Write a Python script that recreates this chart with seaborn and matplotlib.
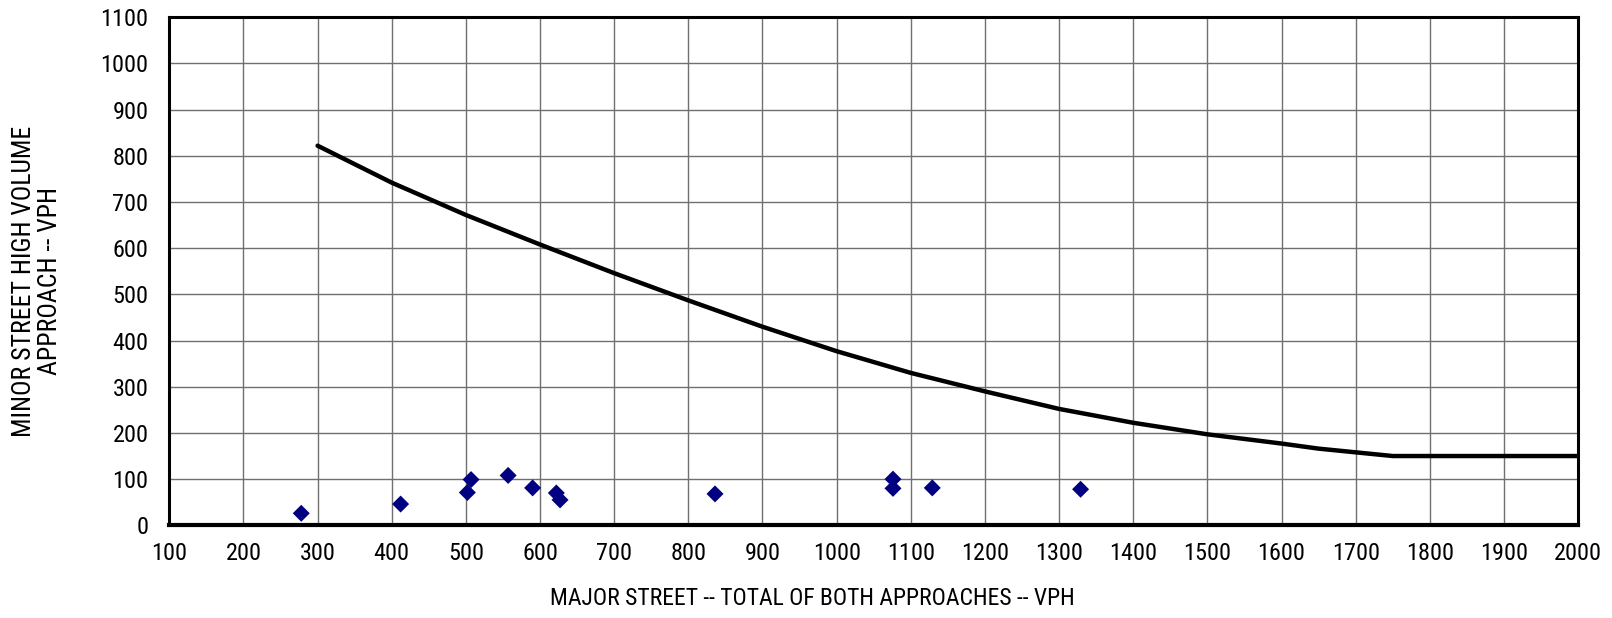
import seaborn as sns
import numpy as np
import pandas as pd
import matplotlib.pyplot as plt

# warrant curve
curve_major = [300, 400, 500, 600, 700, 800, 900, 1000, 1100, 1200, 1300, 1400, 1500, 1600, 1650, 1750, 2000]
curve_minor = [822, 742, 672, 608, 546, 487, 430, 377, 330, 290, 252, 222, 197, 177, 166, 150, 150]

# observed hourly volumes
obs_major = [278, 412, 502, 507, 557, 590, 622, 627, 836, 1076, 1076, 1129, 1329]
obs_minor = [26, 46, 71, 99, 108, 81, 70, 55, 68, 100, 80, 81, 78]

x_ticks = np.arange(100, 2001, 100)
y_ticks = np.arange(0, 1101, 100)

sns.set_theme(style="white")
plt.rcParams['font.family'] = ['Roboto Condensed', 'DejaVu Sans Condensed', 'Liberation Sans', 'DejaVu Sans']
plt.rcParams['font.stretch'] = 'condensed'
plt.rcParams['text.color'] = 'black'

curve = pd.DataFrame({'major': curve_major, 'minor': curve_minor})
obs = pd.DataFrame({'major': obs_major, 'minor': obs_minor})

fig, ax = plt.subplots(figsize=(16.12, 6.18), dpi=100)
fig.subplots_adjust(left=0.105, right=0.979, top=0.972, bottom=0.150)

sns.lineplot(data=curve, x='major', y='minor', ax=ax, color='black', linewidth=3.2, zorder=3)
sns.scatterplot(data=obs, x='major', y='minor', ax=ax, marker='D', s=75, color='#000080',
                edgecolor='none', zorder=4)

ax.set_xlim(100, 2000)
ax.set_ylim(0, 1100)
ax.set_xticks(x_ticks)
ax.set_yticks(y_ticks)
ax.tick_params(axis='both', labelsize=17.5, length=0, colors='black')
ax.tick_params(axis='x', pad=12)
ax.tick_params(axis='y', pad=15)
ax.grid(True, color='#707070', linewidth=1.0)
ax.set_axisbelow(True)
for sp in ax.spines.values():
    sp.set_color('black')
    sp.set_linewidth(2.2)
ax.spines['bottom'].set_linewidth(3)

ax.set_xlabel('')
ax.set_ylabel('')
fig.text(0.504, 0.031, 'MAJOR STREET -- TOTAL OF BOTH APPROACHES -- VPH',
         ha='center', va='center', fontsize=17)
fig.text(0.023, 0.545, 'MINOR STREET HIGH VOLUME\nAPPROACH -- VPH', rotation=90,
         ha='center', va='center', fontsize=18.5, linespacing=1.12)

fig.savefig('out.png', dpi=100)
